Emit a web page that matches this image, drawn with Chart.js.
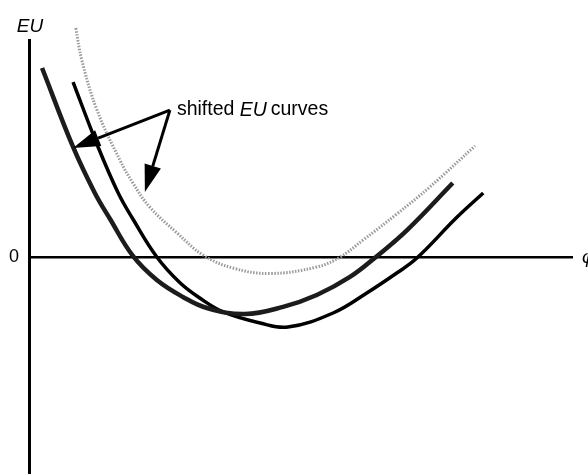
<!DOCTYPE html>
<html>
<head>
<meta charset="utf-8">
<title>Shifted EU curves</title>
<script src="https://cdn.jsdelivr.net/npm/chart.js"></script>
<style>
  html, body { margin: 0; padding: 0; background: #fff; }
  canvas { display: block; }
</style>
</head>
<body>
<canvas id="euChart" width="588" height="474"></canvas>
<script>
// --- Curve data (phi on x, EU on y, arbitrary units) ---

// original EU curve (heavy, grainy stroke)
const phiA = [0.24, 0.81, 1.21, 1.49, 1.91, 2.35, 2.83, 3.27, 3.97, 4.67, 5.29, 5.90, 6.40, 6.95, 7.79];
const euA  = [8.71, 5.07, 2.95, 1.75, 0.05, -1.06, -1.84, -2.35, -2.63, -2.30, -1.75, -0.92, 0.05, 1.24, 3.41];

// shifted curve, lower minimum
const phiB = [0.81, 1.27, 1.64, 1.91, 2.35, 2.78, 3.14, 3.57, 4.25, 4.76, 5.59, 6.21, 6.76, 7.13, 7.87, 8.35];
const euB  = [8.06, 5.07, 2.95, 1.75, 0.00, -1.20, -1.89, -2.53, -3.04, -3.23, -2.58, -1.66, -0.74, -0.05, 1.84, 2.95];

// shifted curve, higher minimum (dotted grey)
const phiC = [0.86, 0.97, 1.25, 1.67, 1.91, 2.22, 2.72, 3.20, 3.75, 4.43, 5.29, 5.72, 6.14, 6.76, 7.37, 8.20];
const euC  = [10.55, 9.08, 6.77, 4.47, 3.41, 2.30, 1.11, 0.09, -0.51, -0.76, -0.46, 0.00, 0.78, 1.98, 3.23, 5.12];

// axis ranges and the single labelled tick
const phiRange = [0, 10];
const euRange = [-10, 10];
const euTicks = [0];

// callout: both arrows start at the label corner
const calloutFrom = [2.59, 6.77];
const calloutTips = [[0.81, 5.02], [2.13, 3.00]];
const calloutText = ['shifted ', 'EU', ' curves'];

function toPoints(xs, ys) {
    return xs.map((x, i) => ({ x, y: ys[i] }));
}

// --- Plugins for the annotations ---

const BASE_FONT = '"Liberation Sans", Arial, Helvetica, sans-serif';

function drawArrow(ctx, x0, y0, x1, y1) {
    const ang = Math.atan2(y1 - y0, x1 - x0);
    const headLen = 27, headHalf = 8.5;
    const bx = x1 - headLen * Math.cos(ang);
    const by = y1 - headLen * Math.sin(ang);
    ctx.beginPath();
    ctx.moveTo(x0, y0);
    ctx.lineTo(bx, by);
    ctx.stroke();
    ctx.beginPath();
    ctx.moveTo(x1, y1);
    ctx.lineTo(bx + headHalf * Math.sin(ang), by - headHalf * Math.cos(ang));
    ctx.lineTo(bx - headHalf * Math.sin(ang), by + headHalf * Math.cos(ang));
    ctx.closePath();
    ctx.fill();
}

const annotationPlugin = {
    id: 'euAnnotations',
    afterDatasetsDraw(chart) {
        const { ctx, scales: { x, y }, chartArea } = chart;
        ctx.save();
        ctx.fillStyle = '#000';
        ctx.strokeStyle = '#000';
        ctx.lineWidth = 3;
        ctx.lineCap = 'butt';

        // arrows from the label to two of the curves
        const fx = x.getPixelForValue(calloutFrom[0]);
        const fy = y.getPixelForValue(calloutFrom[1]);
        calloutTips.forEach(([tx, ty]) => {
            drawArrow(ctx, fx, fy, x.getPixelForValue(tx), y.getPixelForValue(ty));
        });

        // label text, with EU set in italics
        ctx.textBaseline = 'middle';
        ctx.textAlign = 'left';
        let cx = fx + 7;
        calloutText.forEach((part, i) => {
            ctx.font = (i === 1 ? 'italic ' : '') + '19.5px ' + BASE_FONT;
            ctx.fillText(part, cx, fy);
            cx += ctx.measureText(part).width - (i === 1 ? 1.5 : 0);
        });

        // axis names
        ctx.font = 'italic 19px ' + BASE_FONT;
        ctx.textAlign = 'center';
        ctx.textBaseline = 'alphabetic';
        ctx.fillText('EU', chartArea.left + 1, chartArea.top - 8);
        ctx.textAlign = 'left';
        ctx.textBaseline = 'middle';
        ctx.fillText('φ', chartArea.right + 9, y.getPixelForValue(0) + 1);
        ctx.restore();
    }
};

// --- Chart ---

function lineDataset(xs, ys, color, width, dash) {
    return {
        data: toPoints(xs, ys),
        borderColor: color,
        borderWidth: width,
        borderDash: dash || [],
        pointRadius: 0,
        fill: false,
        tension: 0.4,
        clip: false
    };
}

const chart = new Chart(document.getElementById('euChart'), {
    type: 'line',
    data: {
        datasets: [
            lineDataset(phiC, euC, '#9a9a9a', 3, [1.5, 1.5]),
            lineDataset(phiA, euA, '#1c1c1c', 4.5),
            lineDataset(phiB, euB, '#000', 3.5)
        ]
    },
    options: {
        responsive: false,
        animation: false,
        layout: { padding: { top: 40, right: 15, bottom: 0, left: 0 } },
        plugins: { legend: { display: false }, tooltip: { enabled: false } },
        scales: {
            x: {
                type: 'linear',
                min: phiRange[0],
                max: phiRange[1],
                display: false
            },
            y: {
                type: 'linear',
                min: euRange[0],
                max: euRange[1],
                afterBuildTicks: scale => { scale.ticks = euTicks.map(v => ({ value: v })); },
                afterFit: scale => {
                    // only the middle tick is labelled, so no edge padding is needed
                    scale.width = 29;
                    scale.paddingTop = 0;
                    scale.paddingBottom = 0;
                },
                ticks: {
                    color: '#000',
                    padding: 10,
                    font: { family: BASE_FONT, size: 18 }
                },
                grid: {
                    color: '#000',
                    lineWidth: 2.5,
                    drawTicks: false
                },
                border: { display: true, color: '#000', width: 3 }
            }
        }
    },
    plugins: [annotationPlugin]
});
</script>
</body>
</html>
